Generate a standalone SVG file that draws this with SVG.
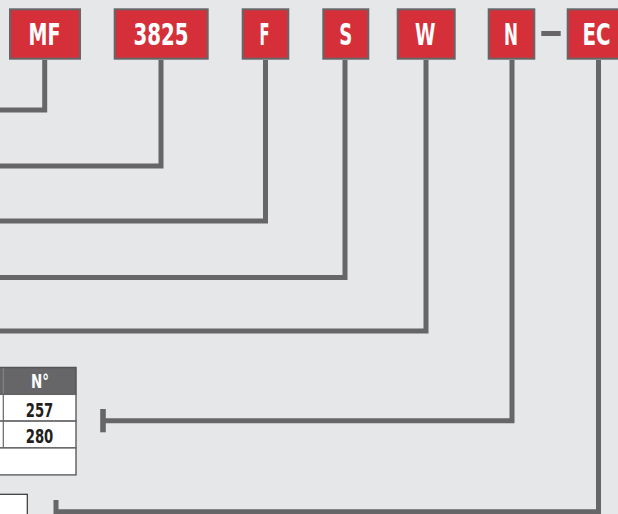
<svg xmlns="http://www.w3.org/2000/svg" width="618" height="514" viewBox="0 0 618 514">
<style>
.bg{fill:#e6e7e9}
.code rect{fill:#d5303a;stroke:#666668;stroke-width:2}
.code text{fill:#ffffff;font-family:"DejaVu Sans","Liberation Sans",sans-serif;font-weight:bold;font-size:31px;text-anchor:middle}
.conn{fill:none;stroke:#666668;stroke-width:5;stroke-linejoin:miter;stroke-linecap:butt}
.cell{fill:#ffffff;stroke:#666668;stroke-width:1.5}
.hdr{fill:#666668;stroke:#555557;stroke-width:1.5}
.tt{font-family:"DejaVu Sans","Liberation Sans",sans-serif;font-weight:bold;font-size:19.5px;text-anchor:middle}
</style>
<rect class="bg" x="0" y="0" width="618" height="514"/>
<g id="connectors">
<path class="conn" d="M44.7,60 V110 H-5"/>
<path class="conn" d="M161,60 V166 H-5"/>
<path class="conn" d="M265.5,60 V221 H-5"/>
<path class="conn" d="M345,60 V277.5 H-5"/>
<path class="conn" d="M426,60 V331 H-5"/>
<path class="conn" d="M512,60 V420.8 H103"/>
<path class="conn" d="M103,409 V432.3" style="stroke-width:5.6"/>
<path class="conn" d="M598.5,60 V511.8 H56 V500"/>
<rect x="541.3" y="31" width="19.4" height="5" fill="#666668"/>
</g>
<g id="node-MF" class="code"><rect x="10" y="9.3" width="70" height="49.4"/><text x="44.5" y="45.3" textLength="32" lengthAdjust="spacingAndGlyphs">MF</text></g>
<g id="node-3825" class="code"><rect x="114.7" y="9.3" width="93" height="49.4"/><text x="161" y="45.3" textLength="55" lengthAdjust="spacingAndGlyphs">3825</text></g>
<g id="node-F" class="code"><rect x="242.7" y="9.3" width="45.6" height="49.4"/><text x="264.5" y="45.3" textLength="10" lengthAdjust="spacingAndGlyphs">F</text></g>
<g id="node-S" class="code"><rect x="323.3" y="9.3" width="45" height="49.4"/><text x="345.7" y="45.3" textLength="13" lengthAdjust="spacingAndGlyphs">S</text></g>
<g id="node-W" class="code"><rect x="397.7" y="9.3" width="57" height="49.4"/><text x="425.2" y="45.3" textLength="20.5" lengthAdjust="spacingAndGlyphs">W</text></g>
<g id="node-N" class="code"><rect x="488.7" y="9.3" width="45.6" height="49.4"/><text x="511" y="45.3" textLength="14" lengthAdjust="spacingAndGlyphs">N</text></g>
<g id="node-EC" class="code"><rect x="567.7" y="9.3" width="60" height="49.4"/><text transform="translate(596.5,45.3) scale(0.64,1)" x="0" y="0">EC</text></g>
<g id="table">
<rect class="hdr" x="-2" y="367.5" width="78" height="26.8"/>
<line x1="3.3" y1="368" x2="3.3" y2="394" stroke="#8a8a8c" stroke-width="1"/>
<rect class="cell" x="-2" y="394.3" width="78" height="26.8"/>
<rect class="cell" x="-2" y="421.1" width="78" height="26.8"/>
<rect class="cell" x="-2" y="447.9" width="78" height="27"/>
<line x1="3.3" y1="394.3" x2="3.3" y2="447.9" stroke="#666668" stroke-width="1.2"/>
<text class="tt" x="40" y="388" fill="#ffffff" textLength="18" lengthAdjust="spacingAndGlyphs">N°</text>
<text class="tt" x="39.5" y="416.7" fill="#231f20" textLength="27.6" lengthAdjust="spacingAndGlyphs">257</text>
<text class="tt" x="39.5" y="443" fill="#231f20" textLength="27.6" lengthAdjust="spacingAndGlyphs">280</text>
</g>
<g id="node-bottom-box">
<rect x="-2" y="494.3" width="29.3" height="25" fill="#ffffff" stroke="#333333" stroke-width="1.2"/>
</g>
</svg>
